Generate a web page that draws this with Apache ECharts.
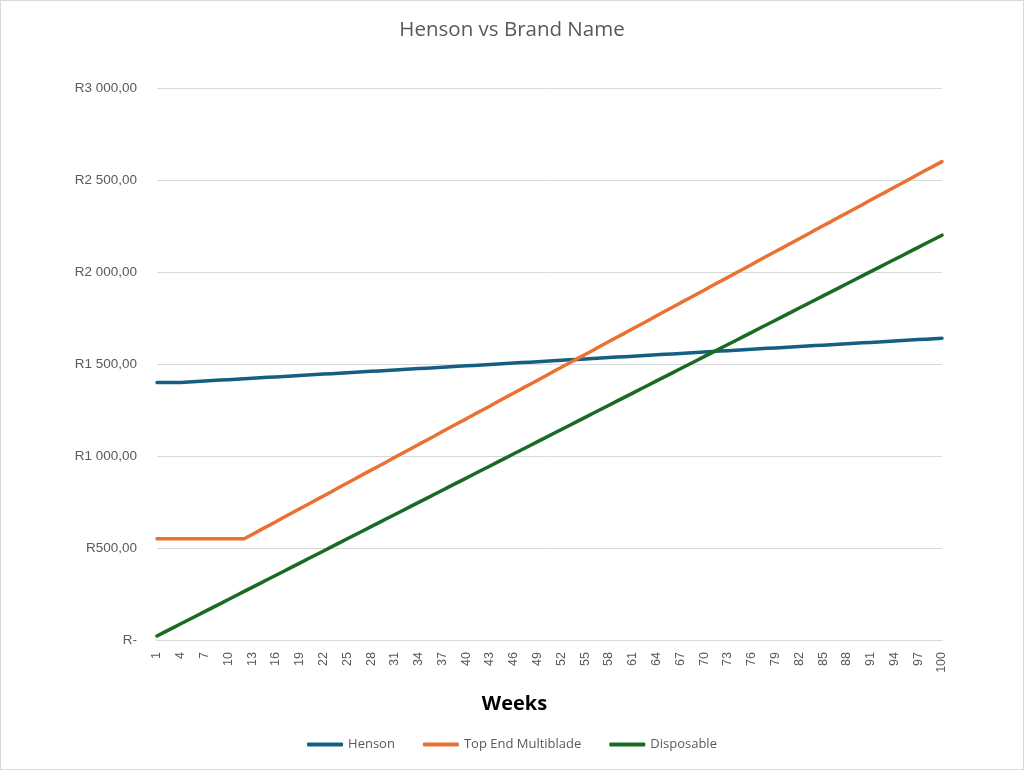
<!DOCTYPE html>
<html>
<head>
<meta charset="utf-8">
<script src="https://cdn.jsdelivr.net/npm/echarts@6/dist/echarts.min.js"></script>
<style>
  html, body { margin: 0; padding: 0; background: #fff; }
  #chart { width: 1022px; height: 768px; border: 1px solid #d9d9d9; }
</style>
</head>
<body>
<div id="chart"></div>
<script>
const weeks = [];
for (let i = 1; i <= 100; i++) weeks.push(String(i));

const henson = [
  1400, 1400, 1400, 1400, 1402.5, 1405, 1407.5, 1410, 1412.5, 1415,
  1417.5, 1420, 1422.5, 1425, 1427.5, 1430, 1432.5, 1435, 1437.5, 1440,
  1442.5, 1445, 1447.5, 1450, 1452.5, 1455, 1457.5, 1460, 1462.5, 1465,
  1467.5, 1470, 1472.5, 1475, 1477.5, 1480, 1482.5, 1485, 1487.5, 1490,
  1492.5, 1495, 1497.5, 1500, 1502.5, 1505, 1507.5, 1510, 1512.5, 1515,
  1517.5, 1520, 1522.5, 1525, 1527.5, 1530, 1532.5, 1535, 1537.5, 1540,
  1542.5, 1545, 1547.5, 1550, 1552.5, 1555, 1557.5, 1560, 1562.5, 1565,
  1567.5, 1570, 1572.5, 1575, 1577.5, 1580, 1582.5, 1585, 1587.5, 1590,
  1592.5, 1595, 1597.5, 1600, 1602.5, 1605, 1607.5, 1610, 1612.5, 1615,
  1617.5, 1620, 1622.5, 1625, 1627.5, 1630, 1632.5, 1635, 1637.5, 1640
];

const topEnd = [
  550, 550, 550, 550, 550, 550, 550, 550, 550, 550,
  550, 550, 573, 597, 620, 643, 667, 690, 713, 736,
  760, 783, 806, 830, 853, 876, 900, 923, 946, 969,
  993, 1016, 1039, 1063, 1086, 1109, 1133, 1156, 1179, 1202,
  1226, 1249, 1272, 1296, 1319, 1342, 1366, 1389, 1412, 1435,
  1459, 1482, 1505, 1529, 1552, 1575, 1599, 1622, 1645, 1668,
  1692, 1715, 1738, 1762, 1785, 1808, 1832, 1855, 1878, 1901,
  1925, 1948, 1971, 1995, 2018, 2041, 2065, 2088, 2111, 2134,
  2158, 2181, 2204, 2228, 2251, 2274, 2298, 2321, 2344, 2367,
  2391, 2414, 2437, 2461, 2484, 2507, 2531, 2554, 2577, 2600
];

const disposable = [
  22, 44, 66, 88, 110, 132, 154, 176, 198, 220,
  242, 264, 286, 308, 330, 352, 374, 396, 418, 440,
  462, 484, 506, 528, 550, 572, 594, 616, 638, 660,
  682, 704, 726, 748, 770, 792, 814, 836, 858, 880,
  902, 924, 946, 968, 990, 1012, 1034, 1056, 1078, 1100,
  1122, 1144, 1166, 1188, 1210, 1232, 1254, 1276, 1298, 1320,
  1342, 1364, 1386, 1408, 1430, 1452, 1474, 1496, 1518, 1540,
  1562, 1584, 1606, 1628, 1650, 1672, 1694, 1716, 1738, 1760,
  1782, 1804, 1826, 1848, 1870, 1892, 1914, 1936, 1958, 1980,
  2002, 2024, 2046, 2068, 2090, 2112, 2134, 2156, 2178, 2200
];

const seriesNames = ['Henson', 'Top End Multiblade', 'Disposable'];
const seriesColors = ['#156082', '#E97132', '#196B24'];

function rand(v) {
  if (v === 0) return 'R-';
  const s = String(Math.round(v)).replace(/\B(?=(\d{3})+(?!\d))/g, ' ');
  return 'R' + s + ',00';
}

const chart = echarts.init(document.getElementById('chart'));
const dataSets = [henson, topEnd, disposable];

chart.setOption({
  backgroundColor: '#fff',
  animation: false,
  title: {
    text: 'Henson vs Brand Name',
    left: 'center',
    top: 14,
    textStyle: {fontFamily: 'Open Sans', fontSize: 20.5, fontWeight: 'normal', color: '#595959'}
  },
  legend: {
    data: seriesNames,
    bottom: 13,
    left: 'center',
    icon: 'roundRect',
    itemWidth: 36,
    itemHeight: 4,
    itemGap: 28,
    textStyle: {fontFamily: 'Open Sans', fontSize: 13, color: '#595959'}
  },
  grid: {left: 156, right: 81, top: 87, bottom: 129},
  xAxis: {
    type: 'category',
    data: weeks,
    boundaryGap: false,
    name: 'Weeks',
    nameLocation: 'middle',
    nameGap: 54,
    // title sits centred on the whole chart, not the plot
    nameTextStyle: {fontFamily: 'Open Sans', fontSize: 20, fontWeight: 'bold', color: '#000', padding: [0, 70, 0, 0]},
    axisLine: {lineStyle: {color: '#d9d9d9'}},
    axisTick: {show: false},
    axisLabel: {
      interval: 2,
      rotate: 90,
      margin: 12,
      fontFamily: 'Liberation Sans',
      fontSize: 12.5,
      color: '#595959'
    }
  },
  yAxis: {
    type: 'value',
    min: 0,
    max: 3000,
    interval: 500,
    axisLine: {show: false},
    axisTick: {show: false},
    splitLine: {lineStyle: {color: '#d9d9d9'}},
    axisLabel: {
      formatter: rand,
      margin: 20,
      fontFamily: 'Liberation Sans',
      fontSize: 13.5,
      color: '#595959'
    }
  },
  series: seriesNames.map((name, i) => ({
    name: name,
    type: 'line',
    data: dataSets[i],
    showSymbol: false,
    symbol: 'none',
    lineStyle: {width: 3.5, color: seriesColors[i], cap: 'round'},
    itemStyle: {color: seriesColors[i]}
  }))
});
</script>
</body>
</html>
